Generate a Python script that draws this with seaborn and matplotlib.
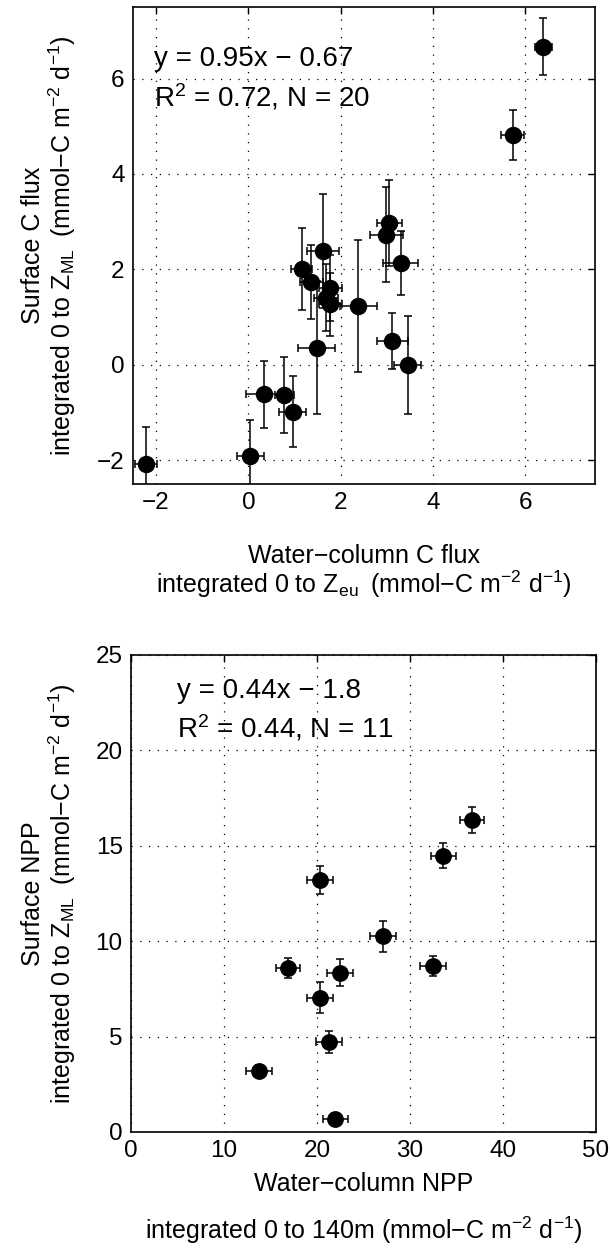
import numpy as np
import pandas as pd
import matplotlib
matplotlib.use("Agg")
import matplotlib.pyplot as plt
import seaborn as sns

# ── Data ─────────────────────────────────────────────────────────────────────

# top panel: C flux
flux_wc = [6.39, 5.72, 3.05, 2.99, 3.30, 1.61, 1.15, 1.36, 1.77, 1.68,
           1.77, 2.38, 1.48, 3.12, 3.45, 0.33, 0.78, 0.96, 0.04, -2.22]
flux_sf = [6.67, 4.82, 2.98, 2.73, 2.13, 2.39, 2.00, 1.74, 1.61, 1.41,
           1.27, 1.23, 0.36, 0.50, -0.01, -0.62, -0.63, -0.98, -1.92, -2.09]
flux_xerr = [0.19, 0.24, 0.27, 0.35, 0.38, 0.35, 0.23, 0.25, 0.25, 0.25,
             0.25, 0.40, 0.40, 0.33, 0.29, 0.39, 0.20, 0.29, 0.29, 0.23]
flux_yerr = [0.60, 0.53, 0.90, 1.00, 0.67, 1.20, 0.86, 0.78, 0.70, 0.70,
             0.66, 1.38, 1.40, 0.59, 1.03, 0.70, 0.80, 0.75, 0.76, 0.79]

# bottom panel: NPP
npp_wc = [36.7, 33.6, 20.3, 27.1, 16.9, 22.5, 32.5, 20.3, 21.35, 13.8, 22.0]
npp_sf = [16.35, 14.48, 13.19, 10.25, 8.59, 8.35, 8.68, 7.03, 4.70, 3.19, 0.70]
npp_xerr = [1.25, 1.35, 1.40, 1.38, 1.25, 1.38, 1.43, 1.40, 1.40, 1.38, 1.30]
npp_yerr = [0.67, 0.65, 0.73, 0.80, 0.52, 0.70, 0.52, 0.81, 0.57, 0.30, 0.30]

flux_ticks = [-2, 0, 2, 4, 6]
npp_xticks = [0, 10, 20, 30, 40, 50]
npp_yticks = [0, 5, 10, 15, 20, 25]

UNITS = "(mmol\u2212C m$^{\u22122}$ d$^{\u22121}$)"

# ── Style ────────────────────────────────────────────────────────────────────

sns.set_theme(style="white")
plt.rcParams["font.family"] = ["Liberation Sans", "DejaVu Sans"]
plt.rcParams["mathtext.fontset"] = "custom"
plt.rcParams["mathtext.rm"] = "Liberation Sans"
plt.rcParams["mathtext.it"] = "Liberation Sans"
plt.rcParams["mathtext.default"] = "regular"
plt.rcParams["text.color"] = "black"
plt.rcParams["axes.labelcolor"] = "black"

FS = 18         # axis labels
FS_TICK = 17.5  # tick labels
FS_EQ = 20      # regression text
GRID = dict(color="black", linestyle=(0, (1, 6)), linewidth=0.9)


def style_axes(ax, xticks, yticks, xlim, ylim):
    ax.set_xlim(*xlim)
    ax.set_ylim(*ylim)
    ax.set_xticks(xticks)
    ax.set_yticks(yticks)
    ax.tick_params(direction="in", top=True, right=True, length=5,
                   width=1, labelsize=FS_TICK, colors="black", pad=6)
    for s in ax.spines.values():
        s.set_color("black")
        s.set_linewidth(1.2)
    ax.grid(True, **GRID)
    ax.set_axisbelow(True)


def draw_panel(ax, x, y, xerr, yerr, size):
    ax.errorbar(x, y, xerr=xerr, yerr=yerr, fmt="none", ecolor="black",
                elinewidth=1.1, capsize=3, capthick=1.1, zorder=2)
    df = pd.DataFrame({"x": x, "y": y})
    sns.scatterplot(data=df, x="x", y="y", ax=ax, color="black",
                    edgecolor="black", s=size, zorder=3, legend=False)
    ax.set_xlabel("")
    ax.set_ylabel("")


fig = plt.figure(figsize=(6.10, 12.53), dpi=100)

# top panel
ax1 = fig.add_axes([0.218, 0.6137, 0.757, 0.3807])
draw_panel(ax1, flux_wc, flux_sf, flux_xerr, flux_yerr, 135)
style_axes(ax1, flux_ticks, flux_ticks, (-2.5, 7.5), (-2.5, 7.5))
ax1.text(-2.05, 6.42, "y = 0.95x \u2212 0.67", fontsize=FS_EQ, va="center")
ax1.text(-2.05, 5.62, "R$^2$ = 0.72, N = 20", fontsize=FS_EQ, va="center")
ax1.set_xlabel("Water\u2212column C flux\nintegrated 0 to Z$_{eu}$\u2009 " + UNITS,
               fontsize=FS, labelpad=21, linespacing=1.05)
ax1.set_ylabel("Surface C flux\nintegrated 0 to Z$_{ML}$\u2009 " + UNITS,
               fontsize=FS, labelpad=14, linespacing=1.05)

# bottom panel
ax2 = fig.add_axes([0.2148, 0.0966, 0.7618, 0.3807])
draw_panel(ax2, npp_wc, npp_sf, npp_xerr, npp_yerr, 125)
style_axes(ax2, npp_xticks, npp_yticks, (0, 50), (0, 25))
ax2.text(5.0, 23.1, "y = 0.44x \u2212 1.8", fontsize=FS_EQ, va="center")
ax2.text(5.0, 21.15, "R$^2$ = 0.44, N = 11", fontsize=FS_EQ, va="center")
ax2.set_xlabel("Water\u2212column NPP\n\nintegrated 0 to 140m " + UNITS,
               fontsize=FS, labelpad=7, linespacing=0.88)
ax2.set_ylabel("Surface NPP\nintegrated 0 to Z$_{ML}$\u2009 " + UNITS,
               fontsize=FS, labelpad=13, linespacing=1.05)

fig.savefig("out.png", dpi=100, facecolor="white")
